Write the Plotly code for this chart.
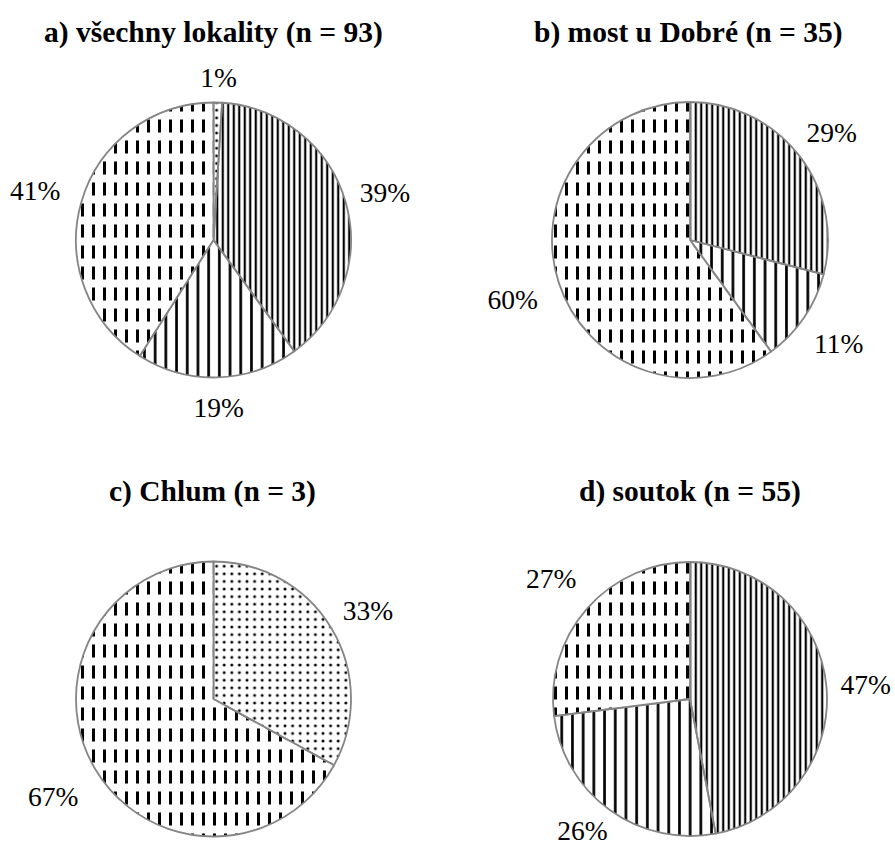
import math
import plotly.graph_objects as go

# Category order as plotted clockwise from 12 o'clock
categories = ["skupina 1", "skupina 2", "skupina 3", "skupina 4"]

# Shares (%) per locality
vals_a = [1, 39, 19, 41]
vals_b = [0, 29, 11, 60]
vals_c = [33, 0, 0, 67]
vals_d = [0, 47, 26, 27]

titles = [
    "a) všechny lokality (n = 93)",
    "b) most u Dobré (n = 35)",
    "c) Chlum (n = 3)",
    "d) soutok (n = 55)",
]

W, H = 895, 848
FONT = "Liberation Serif"
LABEL_SIZE = 27.5
TITLE_SIZE = 29.5

# hatch style for each category: (shape, tile size, solidity)
base_style = {
    "skupina 1": (".", 7.6, 0.12),
    "skupina 2": ("|", 5.5, 0.40),
    "skupina 3": ("|", 10.7, 0.25),
    "skupina 4": ("|", 11.0, 0.27),
}
# white horizontal bands cut the vertical lines of category 4 into dashes
cut_style = {
    "skupina 1": ("", 8, 0.3),
    "skupina 2": ("", 8, 0.3),
    "skupina 3": ("", 8, 0.3),
    "skupina 4": ("-", 21, 0.38),
}

# pie centre x, centre y, radius (px), title centre x, title centre y
panels = [
    (vals_a, 213.5, 240, 137.5, titles[0], 213, 33),
    (vals_b, 690, 240, 138, titles[1], 688, 33),
    (vals_c, 213.5, 699, 137.5, titles[2], 212, 491),
    (vals_d, 690, 699, 137, titles[3], 690, 491),
]
LABEL_BOX = 215   # half-size (px) of the label axes around each pie
LABEL_GAP = 13    # px between rim and label box
LABEL_DROP = 5    # px: centres the digits (not the text box) on the anchor


def domain(cx, cy, r):
    return dict(x=[(cx - r) / W, (cx + r) / W], y=[1 - (cy + r) / H, 1 - (cy - r) / H])


fig = go.Figure()
annotations = []
axes = {}
for i, (vals, cx, cy, r, title, tx, ty) in enumerate(panels):
    labs = [c for c, v in zip(categories, vals) if v > 0]
    vs = [v for v in vals if v > 0]
    dom = domain(cx, cy, r)
    b = [base_style[c] for c in labs]
    k = [cut_style[c] for c in labs]
    # hatched fills
    fig.add_trace(go.Pie(
        labels=labs, values=vs, sort=False, direction="clockwise", rotation=0,
        domain=dom, textinfo="none", hoverinfo="skip", showlegend=False,
        marker=dict(
            colors=["white"] * len(labs),
            line=dict(width=0),
            pattern=dict(shape=[s[0] for s in b], size=[s[1] for s in b],
                         solidity=[s[2] for s in b], fgcolor="black",
                         bgcolor="white"),
        ),
    ))
    # dash cuts and slice borders
    fig.add_trace(go.Pie(
        labels=labs, values=vs, sort=False, direction="clockwise", rotation=0,
        domain=dom, textinfo="none", hoverinfo="skip", showlegend=False,
        marker=dict(
            colors=["rgba(0,0,0,0)"] * len(labs),
            line=dict(width=1.8, color="#858585"),
            pattern=dict(shape=[s[0] for s in k], size=[s[1] for s in k],
                         solidity=[s[2] for s in k], fgcolor="white",
                         bgcolor="rgba(0,0,0,0)"),
        ),
    ))

    # percentage labels outside each slice; axis units = pie radius, origin = pie centre
    total = sum(vs)
    xs, ys, texts = [], [], []
    cum = 0
    for v in vs:
        a = math.radians(360.0 * (cum + v / 2) / total)
        cum += v
        txt = f"{round(100 * v / total)}%"
        half_w = 0.5 * (0.5 * (len(txt) - 1) + 0.833) * LABEL_SIZE
        half_h = 14
        gap = LABEL_GAP + (7 if math.sin(a) < 0 else 0)
        dist = r + gap + half_w * abs(math.sin(a)) + half_h * abs(math.cos(a))
        x_px = dist * math.sin(a)
        y_px = -dist * math.cos(a) + LABEL_DROP          # downward offset from centre
        y_px = min(y_px, H - 15 - cy)                     # keep the label on the canvas
        xs.append(x_px / r)
        ys.append(-y_px / r)
        texts.append(txt)
    n = "" if i == 0 else str(i + 1)
    fig.add_trace(go.Scatter(
        x=xs, y=ys, text=texts, mode="text", xaxis="x" + n, yaxis="y" + n,
        textposition="middle center", hoverinfo="skip", showlegend=False,
        textfont=dict(family=FONT, size=LABEL_SIZE, color="black"),
    ))
    x0, x1 = max(0, cx - LABEL_BOX), min(W, cx + LABEL_BOX)
    y0, y1 = max(0, cy - LABEL_BOX), min(H, cy + LABEL_BOX)
    axes["xaxis" + n] = dict(domain=[x0 / W, x1 / W],
                             range=[(x0 - cx) / r, (x1 - cx) / r],
                             visible=False, fixedrange=True, anchor="y" + n)
    axes["yaxis" + n] = dict(domain=[1 - y1 / H, 1 - y0 / H],
                             range=[(cy - y1) / r, (cy - y0) / r],
                             visible=False, fixedrange=True, anchor="x" + n)

    annotations.append(dict(
        text="<b>" + title + "</b>", x=tx / W, y=1 - ty / H, xref="paper", yref="paper",
        xanchor="center", yanchor="middle", showarrow=False,
        font=dict(family=FONT, size=TITLE_SIZE, color="black"),
    ))

fig.update_layout(
    width=W, height=H, margin=dict(l=0, r=0, t=0, b=0),
    paper_bgcolor="white", plot_bgcolor="rgba(0,0,0,0)",
    annotations=annotations,
    **axes,
)

fig.write_html("out.html")
